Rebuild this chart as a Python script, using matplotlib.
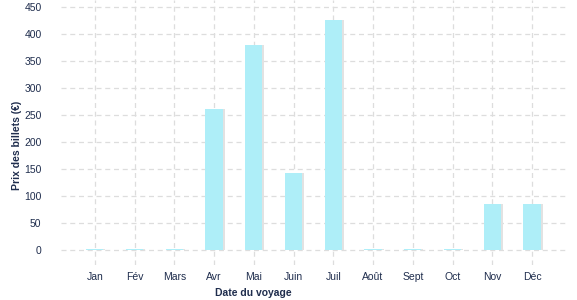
import matplotlib.pyplot as plt
import numpy as np

plt.rcParams['font.family'] = ['Liberation Sans', 'DejaVu Sans']

mois = ['Jan', 'Fév', 'Mars', 'Avr', 'Mai', 'Juin', 'Juil', 'Août', 'Sept', 'Oct', 'Nov', 'Déc']
prix = [1, 1, 1, 261, 380, 143, 426, 1, 1, 1, 85, 85]
yticks = [0, 50, 100, 150, 200, 250, 300, 350, 400, 450]

texte = '#1f2d4d'
x = np.arange(len(mois))

fig = plt.figure(figsize=(5.77, 3.0), dpi=100)
ax = fig.add_axes([61 / 577, 35 / 300, 506 / 577, 265 / 300])

# petite ombre grise derrière les barres
ax.bar(x + 0.05, prix, width=0.43, color='#e2e2e2', zorder=2)
ax.bar(x, prix, width=0.43, color='#aeeef8', zorder=3)

ax.set_xlim(-0.85, 11.88)
ax.set_ylim(-28, 463)
ax.set_xticks(x)
ax.set_xticklabels(mois)
ax.set_yticks(yticks)

ax.grid(True, color='#dddddd', linestyle=(0, (4, 3)), linewidth=0.9, zorder=0)
for s in ax.spines.values():
    s.set_visible(False)
ax.tick_params(axis='both', length=0, labelsize=7.5, colors=texte)
ax.tick_params(axis='y', pad=14)
ax.tick_params(axis='x', pad=5)

ax.set_ylabel('Prix des billets (€)', fontsize=7.5, fontweight='bold', color=texte)
ax.set_xlabel('Date du voyage', fontsize=7.5, fontweight='bold', color=texte)
ax.xaxis.set_label_coords(0.38, -0.085)
ax.yaxis.set_label_coords(-0.077, 0.45)

plt.savefig('out.png', dpi=100)
